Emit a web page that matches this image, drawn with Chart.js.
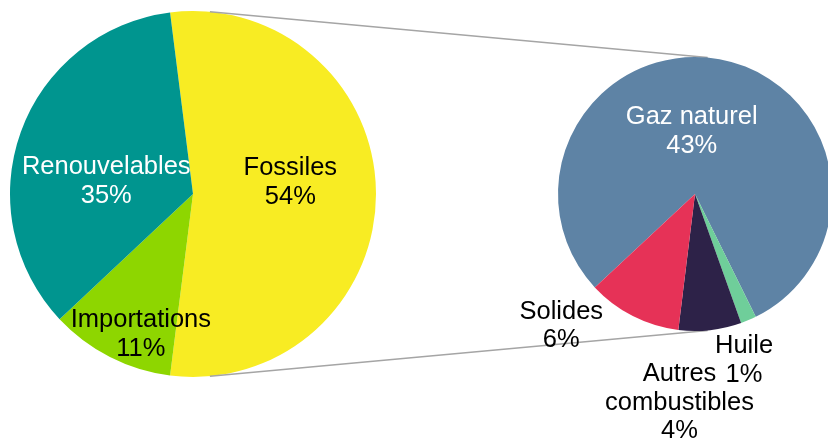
<!DOCTYPE html>
<html lang="fr">
<head>
<meta charset="utf-8">
<script src="https://cdn.jsdelivr.net/npm/chart.js@4/dist/chart.umd.min.js"></script>
<style>
  html, body { margin: 0; padding: 0; width: 828px; height: 444px; overflow: hidden; background: #ffffff; }
  #wrap { position: relative; width: 828px; height: 444px; overflow: hidden; }
  canvas { position: absolute; top: 0; left: 0; }
</style>
</head>
<body>
<div id="wrap">
  <canvas id="main" width="828" height="444"></canvas>
  <canvas id="detail" width="900" height="444"></canvas>
</div>
<script>
// Répartition principale (en % du total)
const mainCategories = ['Fossiles', 'Importations', 'Renouvelables'];
const mainValues = [54, 11, 35];

// Détail des combustibles fossiles (en % du total)
const detailCategories = ['Gaz naturel', 'Huile', 'Autres combustibles', 'Solides'];
const detailValues = [43, 1, 4, 6];

// Styles
const mainColors = ['#F8EC23', '#8ED600', '#00958F'];
const mainTextColors = ['#000000', '#000000', '#FFFFFF'];
const detailColors = ['#5E83A5', '#6FCE9A', '#2D2248', '#E63257'];
const detailTextColors = ['#FFFFFF', '#000000', '#000000', '#000000'];

// Label anchors, in units of the pie radius, relative to the pie centre
const mainLabelOffsets = [[0.532, -0.062], [-0.285, 0.767], [-0.474, -0.068]];
const detailLabelOffsets = [[-0.024, -0.456], [0.358, 1.215], [-0.113, 1.525], [-0.976, 0.963]];

const FONT = '25.5px "Liberation Sans", Arial, sans-serif';
const LINE_HEIGHT = 28.5;
const WRAP_WIDTH = 180;

function wrapText(ctx, text) {
  const words = text.split(' ');
  const lines = [];
  let cur = '';
  for (const w of words) {
    const test = cur ? cur + ' ' + w : w;
    if (cur && ctx.measureText(test).width > WRAP_WIDTH) {
      lines.push(cur);
      cur = w;
    } else {
      cur = test;
    }
  }
  if (cur) lines.push(cur);
  return lines;
}

// Draws "category / value %" for each slice
const sliceLabels = {
  id: 'sliceLabels',
  afterDatasetsDraw(chart, args, opts) {
    const ctx = chart.ctx;
    const meta = chart.getDatasetMeta(0);
    const values = chart.data.datasets[0].data;
    const labels = chart.data.labels;
    ctx.save();
    ctx.font = FONT;
    ctx.textAlign = 'center';
    ctx.textBaseline = 'middle';
    meta.data.forEach((arc, i) => {
      const r = arc.outerRadius;
      const x = arc.x + opts.offsets[i][0] * r;
      const y = arc.y + opts.offsets[i][1] * r;
      const lines = wrapText(ctx, labels[i]).concat([values[i] + '%']);
      ctx.fillStyle = opts.colors[i];
      lines.forEach((line, k) => {
        ctx.fillText(line, x, y + (k - (lines.length - 1) / 2) * LINE_HEIGHT);
      });
    });
    ctx.restore();
  }
};

const mainChart = new Chart(document.getElementById('main'), {
  type: 'pie',
  data: {
    labels: mainCategories,
    datasets: [{
      data: mainValues,
      backgroundColor: mainColors,
      borderWidth: 0
    }]
  },
  options: {
    responsive: false,
    devicePixelRatio: 1,
    animation: false,
    events: [],
    rotation: -7.2,
    layout: { padding: { left: 10, right: 452, top: 11, bottom: 67 } },
    plugins: {
      legend: { display: false },
      tooltip: { enabled: false },
      sliceLabels: { offsets: mainLabelOffsets, colors: mainTextColors }
    }
  },
  plugins: [sliceLabels]
});

// Lines joining the fossil slice to the detail pie
const CONNECTOR_ANGLE = 5.3 * Math.PI / 180;
const connectors = {
  id: 'connectors',
  beforeDatasetsDraw(chart) {
    const a = mainChart.getDatasetMeta(0).data[0];
    const b = chart.getDatasetMeta(0).data[0];
    const s = Math.sin(CONNECTOR_ANGLE), c = Math.cos(CONNECTOR_ANGLE);
    const ctx = chart.ctx;
    ctx.save();
    ctx.strokeStyle = '#A5A5A5';
    ctx.lineWidth = 1.5;
    ctx.beginPath();
    ctx.moveTo(a.x + a.outerRadius * s, a.y - a.outerRadius * c);
    ctx.lineTo(b.x + b.outerRadius * s, b.y - b.outerRadius * c);
    ctx.moveTo(a.x + a.outerRadius * s, a.y + a.outerRadius * c);
    ctx.lineTo(b.x + b.outerRadius * s, b.y + b.outerRadius * c);
    ctx.stroke();
    ctx.restore();
  }
};

const detailChart = new Chart(document.getElementById('detail'), {
  type: 'pie',
  data: {
    labels: detailCategories,
    datasets: [{
      data: detailValues,
      backgroundColor: detailColors,
      borderWidth: 0
    }]
  },
  options: {
    responsive: false,
    devicePixelRatio: 1,
    animation: false,
    events: [],
    rotation: -133,
    layout: { padding: { left: 558, right: 68, top: 57, bottom: 113 } },
    plugins: {
      legend: { display: false },
      tooltip: { enabled: false },
      sliceLabels: { offsets: detailLabelOffsets, colors: detailTextColors }
    }
  },
  plugins: [connectors, sliceLabels]
});
</script>
</body>
</html>
